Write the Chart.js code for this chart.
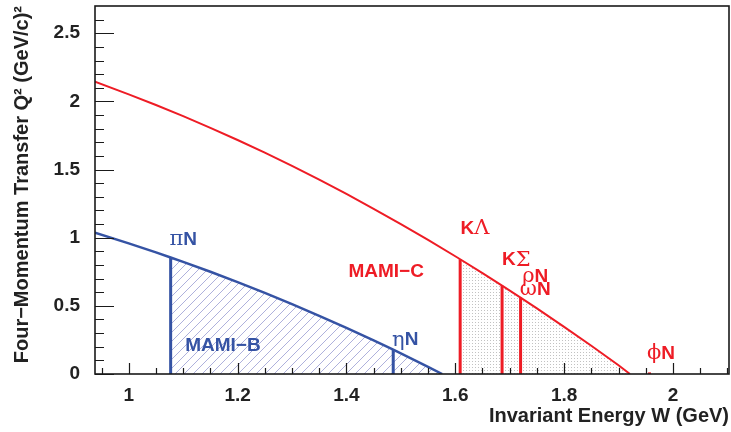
<!DOCTYPE html>
<html><head><meta charset="utf-8">
<script src="https://cdn.jsdelivr.net/npm/chart.js@4/dist/chart.umd.min.js"></script>
<style>html,body{margin:0;padding:0;background:#fff;}canvas{display:block}</style>
</head><body>
<canvas id="c" width="731" height="432"></canvas>
<script>
// Kinematic limit curves: W (GeV) vs max Q^2 (GeV/c)^2
const W_RED = [0.938, 1.0, 1.05, 1.1, 1.15, 1.2, 1.25, 1.3, 1.35, 1.4, 1.45, 1.5, 1.55, 1.6, 1.609, 1.65, 1.686, 1.72, 1.75, 1.8, 1.85, 1.9, 1.921];
const Q_RED = [2.144, 2.052, 1.974, 1.892, 1.806, 1.717, 1.624, 1.527, 1.426, 1.321, 1.212, 1.100, 0.984, 0.864, 0.842, 0.740, 0.648, 0.560, 0.481, 0.346, 0.207, 0.064, 0.0];
const W_BLUE = [0.938, 1.0, 1.05, 1.077, 1.1, 1.15, 1.2, 1.25, 1.3, 1.35, 1.4, 1.45, 1.486, 1.5, 1.55, 1.576];
const Q_BLUE = [1.036, 0.958, 0.892, 0.855, 0.823, 0.750, 0.674, 0.595, 0.513, 0.427, 0.338, 0.246, 0.178, 0.151, 0.053, 0.0];
// thresholds (vertical bars)
const BLUE_THR_W = [1.077, 1.486];
const BLUE_THR_Q = [0.855, 0.178];
const RED_THR_W = [1.609, 1.686, 1.72];
const RED_THR_Q = [0.842, 0.648, 0.560];
const PHI_W = 1.957;
const PHI_Q = 0.012;
// tick values
const X_TICKS = [1, 1.2, 1.4, 1.6, 1.8, 2];
const Y_TICKS = [0, 0.5, 1, 1.5, 2, 2.5];
const X_MINOR = [0.95,1.05,1.1,1.15,1.25,1.3,1.35,1.45,1.5,1.55,1.65,1.7,1.75,1.85,1.9,1.95,2.05,2.1];
const Y_MINOR = [0.1,0.2,0.3,0.4,0.6,0.7,0.8,0.9,1.1,1.2,1.3,1.4,1.6,1.7,1.8,1.9,2.1,2.2,2.3,2.4,2.6];
// text labels: greek part + latin part, anchor in data coords
const LABEL_GREEK = ["π", "", "η", "", "Λ", "Σ", "ρ", "ω", "ϕ"];
const LABEL_LATIN = ["N", "MAMI−B", "N", "MAMI−C", "K", "K", "N", "N", "N"];
const LABEL_W = [1.100, 1.173, 1.508, 1.473, 1.636, 1.712, 1.747, 1.747, 1.978];
const LABEL_Q = [0.983, 0.209, 0.249, 0.752, 1.064, 0.836, 0.712, 0.616, 0.147];
const LABEL_GROUP = ["B", "B", "B", "C", "C", "C", "C", "C", "C"];

const RED = "#ee1c25";
const BLUE = "#3553a4";

function pts(ws, qs, wmin) {
  const out = [];
  for (let i = 0; i < ws.length; i++) if (wmin === undefined || ws[i] >= wmin - 1e-9) out.push({x: ws[i], y: qs[i]});
  return out;
}
function hatch() {
  const n = 9;
  const c = document.createElement("canvas"); c.width = n; c.height = n;
  const g = c.getContext("2d");
  g.strokeStyle = "#aeb1dc"; g.lineWidth = 1;
  g.beginPath(); g.moveTo(-1, n + 1); g.lineTo(n + 1, -1); g.moveTo(-1, 1); g.lineTo(1, -1); g.moveTo(n - 1, n + 1); g.lineTo(n + 1, n - 1); g.stroke();
  return document.getElementById("c").getContext("2d").createPattern(c, "repeat");
}
function dots() {
  const c = document.createElement("canvas"); c.width = 3; c.height = 3;
  const g = c.getContext("2d");
  g.fillStyle = "#c2c2c2"; g.fillRect(1, 1, 1, 1);
  return document.getElementById("c").getContext("2d").createPattern(c, "repeat");
}

const datasets = [];
datasets.push({data: pts(W_RED, Q_RED), borderColor: RED, borderWidth: 2, pointRadius: 0, fill: false, order: 1});
datasets.push({data: pts(W_BLUE, Q_BLUE), borderColor: BLUE, borderWidth: 2.5, pointRadius: 0, fill: false, order: 1});
BLUE_THR_W.forEach((w, i) => datasets.push({data: [{x: w, y: 0}, {x: w, y: BLUE_THR_Q[i]}], borderColor: BLUE, borderWidth: 3, pointRadius: 0, fill: false, order: 2}));
RED_THR_W.forEach((w, i) => datasets.push({data: [{x: w, y: 0}, {x: w, y: RED_THR_Q[i]}], borderColor: RED, borderWidth: 3, pointRadius: 0, fill: false, order: 2}));
datasets.push({data: [{x: PHI_W, y: 0}, {x: PHI_W, y: PHI_Q}], borderColor: RED, borderWidth: 3, pointRadius: 0, fill: false, order: 2});
datasets.push({data: pts(W_BLUE, Q_BLUE, BLUE_THR_W[0]), borderWidth: 0, borderColor: "rgba(0,0,0,0)", backgroundColor: hatch(), pointRadius: 0, fill: "origin", order: 10});
datasets.push({data: pts(W_RED, Q_RED, RED_THR_W[0]), borderWidth: 0, borderColor: "rgba(0,0,0,0)", backgroundColor: dots(), pointRadius: 0, fill: "origin", order: 10});

const framePlugin = {
  id: "frame",
  afterDraw(chart) {
    const ctx = chart.ctx, ca = chart.chartArea, xs = chart.scales.x, ys = chart.scales.y;
    ctx.save();
    ctx.strokeStyle = "#1a1a1a"; ctx.lineWidth = 1.2;
    ctx.beginPath();
    Y_TICKS.forEach(v => { const y = Math.round(ys.getPixelForValue(v)) + 0.5; ctx.moveTo(ca.left, y); ctx.lineTo(ca.left + 19, y); });
    Y_MINOR.forEach(v => { const y = Math.round(ys.getPixelForValue(v)) + 0.5; ctx.moveTo(ca.left, y); ctx.lineTo(ca.left + 9, y); });
    X_TICKS.forEach(v => { const x = Math.round(xs.getPixelForValue(v)) + 0.5; ctx.moveTo(x, ca.bottom); ctx.lineTo(x, ca.bottom - 11); });
    X_MINOR.forEach(v => { const x = Math.round(xs.getPixelForValue(v)) + 0.5; ctx.moveTo(x, ca.bottom); ctx.lineTo(x, ca.bottom - 6); });
    ctx.stroke();
    ctx.lineWidth = 1.6;
    ctx.strokeRect(ca.left, ca.top, ca.right - ca.left, ca.bottom - ca.top);
    // labels
    ctx.textBaseline = "middle";
    for (let i = 0; i < LABEL_LATIN.length; i++) {
      const cx = xs.getPixelForValue(LABEL_W[i]), cy = ys.getPixelForValue(LABEL_Q[i]);
      ctx.fillStyle = LABEL_GROUP[i] === "B" ? BLUE : RED;
      const gFont = "21px 'DejaVu Serif', 'Liberation Serif', serif", lFont = "bold 19px 'Liberation Sans', Arial, sans-serif";
      const isK = LABEL_LATIN[i] === "K";
      const first = isK ? [LABEL_LATIN[i], lFont] : [LABEL_GREEK[i], gFont];
      const second = isK ? [LABEL_GREEK[i], gFont] : [LABEL_LATIN[i], lFont];
      ctx.font = first[1]; const w1 = ctx.measureText(first[0]).width;
      ctx.font = second[1]; const w2 = ctx.measureText(second[0]).width;
      const x = cx - (w1 + w2) / 2;
      ctx.textAlign = "left";
      ctx.font = first[1]; ctx.fillText(first[0], x, cy);
      ctx.font = second[1]; ctx.fillText(second[0], x + w1, cy);
    }
    ctx.restore();
  }
};

function zeroPad(s) { s.paddingTop = 0; s.paddingBottom = 0; s.paddingLeft = 0; s.paddingRight = 0; }

new Chart(document.getElementById("c"), {
  type: "line",
  data: {datasets},
  options: {
    responsive: false, animation: false, devicePixelRatio: 1,
    layout: {padding: {top: 6, right: 2, left: 0, bottom: 0}},
    plugins: {legend: {display: false}, tooltip: {enabled: false}},
    scales: {
      x: {
        type: "linear", min: 0.938, max: 2.103,
        grid: {display: false, drawTicks: false}, border: {display: false},
        afterBuildTicks: s => { s.ticks = X_TICKS.map(v => ({value: v})); },
        afterFit: s => { s.height = 58; zeroPad(s); },
        ticks: {padding: 10, color: "#222", font: {family: "'Liberation Sans', Arial, sans-serif", weight: "bold", size: 19}, callback: v => String(v)},
        title: {display: true, text: "Invariant Energy W (GeV)", align: "end", color: "#222", padding: {top: 0, bottom: 4}, font: {family: "'Liberation Sans', Arial, sans-serif", weight: "bold", size: 20}}
      },
      y: {
        type: "linear", min: 0, max: 2.7,
        grid: {display: false, drawTicks: false}, border: {display: false},
        afterBuildTicks: s => { s.ticks = Y_TICKS.map(v => ({value: v})); },
        afterFit: s => { s.width = 95; zeroPad(s); },
        ticks: {padding: 15, color: "#222", font: {family: "'Liberation Sans', Arial, sans-serif", weight: "bold", size: 19}, callback: v => String(v)},
        title: {display: true, text: "Four−Momentum Transfer Q² (GeV/c)²", align: "end", color: "#222", padding: {top: 10, bottom: 0}, font: {family: "'Liberation Sans', Arial, sans-serif", weight: "bold", size: 20}}
      }
    }
  },
  plugins: [framePlugin]
});
</script>
</body></html>
